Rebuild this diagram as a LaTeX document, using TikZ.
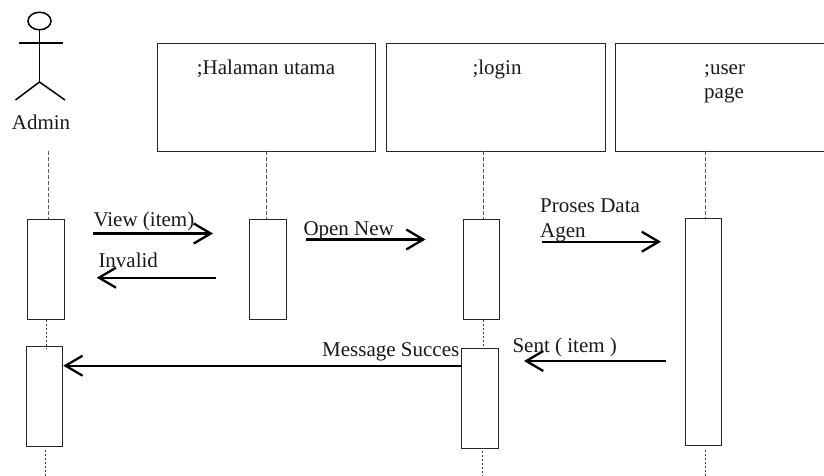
\documentclass[tikz,border=0pt]{standalone}
\usepackage{fontspec}
\setmainfont{Liberation Serif}
\usetikzlibrary{arrows.meta,shapes.geometric}
\tikzset{
  x=1pt,y=-1pt,
  objbox/.style={draw=black!85,line width=1pt,fill=white,inner sep=0pt,minimum height=107pt},
  actbox/.style={draw=black!85,line width=1pt,fill=white,inner sep=0pt,minimum width=36.5pt},
  txt/.style={font=\fontsize{21}{25}\selectfont,inner sep=0pt,anchor=base west,text=black!90},
  life/.style={draw=black!65,line width=1pt,dash pattern=on 4pt off 2pt},
  lifedot/.style={draw=black!75,line width=1pt,dash pattern=on 2pt off 2pt},
  msg/.style={draw=black,line width=2.3pt,-{Straight Barb[length=17pt,width=20pt,line width=2.3pt]}},
  stick/.style={draw=black,line width=1.5pt}
}
\begin{document}
\begin{tikzpicture}
\useasboundingbox (0,0) rectangle (824,476);
% actor
\node[draw=black,line width=1.5pt,ellipse,inner sep=0pt,minimum width=23pt,minimum height=17.5pt] (head) at (39.5,21) {};
\coordinate (hip) at (39.5,82);
\coordinate (armL) at (19,43);
\coordinate (armR) at (63,43);
\coordinate (legL) at (15.5,100);
\coordinate (legR) at (65,100);
\draw[stick] (head) -- (hip);
\draw[stick] (armL) -- (armR);
\draw[stick] (legL) -- (hip) -- (legR);
\node[txt] (admin) at (11.7,130) {Admin};
% object boxes
\node[objbox,minimum width=218pt] (halaman) at (266,97.5) {};
\node[objbox,minimum width=218.3pt] (login) at (495.85,97.5) {};
\node[objbox,minimum width=225pt] (user) at (727.5,97.5) {};
\node[txt] (thal) at (196.7,75) {;Halaman utama};
\node[txt] (tlog) at (472.3,74.5) {;login};
\node[txt] (tus1) at (704,74.5) {;user};
\node[txt] (tus2) at (704,98.5) {page};
% activations
\node[actbox,minimum height=100pt] (a1) at (46,269.5) {};
\node[actbox,minimum height=100pt] (a2) at (44.5,396) {};
\node[actbox,minimum height=100pt] (h1) at (268,269.5) {};
\node[actbox,minimum height=100pt] (l1) at (481.7,269.5) {};
\node[actbox,minimum height=100pt] (l2) at (480,398.5) {};
\node[actbox,minimum height=227.5pt] (u1) at (703.7,332) {};
% free ends
\coordinate (admintop) at (48,151);
\coordinate (admintip) at (48,219);
\coordinate (adminmidA) at (46.5,320);
\coordinate (adminmidB) at (46.5,349);
\coordinate (adminlowA) at (45,450);
\coordinate (adminlowB) at (45,476);
\coordinate (haltop) at (266,151);
\coordinate (haltip) at (266,219);
\coordinate (logtop) at (483.7,151);
\coordinate (logtip) at (483.7,219);
\coordinate (logmidA) at (483.7,320);
\coordinate (logmidB) at (483.7,348);
\coordinate (loglowA) at (482,451);
\coordinate (loglowB) at (482,476);
\coordinate (ustop) at (705.7,151);
\coordinate (ustip) at (705.7,218);
\coordinate (uslowA) at (705,450);
\coordinate (uslowB) at (705,476);
% lifelines
\draw[life] (admintop) -- (admintip);
\draw[life] (haltop) -- (haltip);
\draw[life] (logtop) -- (logtip);
\draw[life] (ustop) -- (ustip);
\draw[lifedot] (adminmidA) -- (adminmidB);
\draw[lifedot] (logmidA) -- (logmidB);
\draw[lifedot] (adminlowA) -- (adminlowB);
\draw[lifedot] (loglowA) -- (loglowB);
\draw[lifedot] (uslowA) -- (uslowB);
% message ends
\coordinate (m1a) at (92.7,233.5);  \coordinate (m1b) at (213,233.5);
\coordinate (m2a) at (216,277.7);   \coordinate (m2b) at (96.7,277.7);
\coordinate (m3a) at (306,239.5);   \coordinate (m3b) at (425.5,239.5);
\coordinate (m4a) at (541.7,241.7); \coordinate (m4b) at (661,241.7);
\coordinate (m5a) at (665.7,361);   \coordinate (m5b) at (524,361);
\coordinate (m6a) at (461.7,365.7); \coordinate (m6b) at (63.3,365.7);
\draw[msg] (m1a) -- (m1b);
\draw[msg] (m2a) -- (m2b);
\draw[msg] (m3a) -- (m3b);
\draw[msg] (m4a) -- (m4b);
\draw[msg] (m5a) -- (m5b);
\draw[msg] (m6a) -- (m6b);
% message labels
\node[txt] (t1) at (93.3,226.7) {View (item)};
\node[txt] (t2) at (98.3,267) {Invalid};
\node[txt] (t3) at (303.3,235) {Open New};
\node[txt] (t4a) at (540,212.3) {Proses Data};
\node[txt] (t4b) at (540,237.3) {Agen};
\node[txt] (t5) at (512.3,352.3) {Sent ( item )};
\node[txt] (t6) at (322,356.7) {Message Succes};
\end{tikzpicture}
\end{document}
